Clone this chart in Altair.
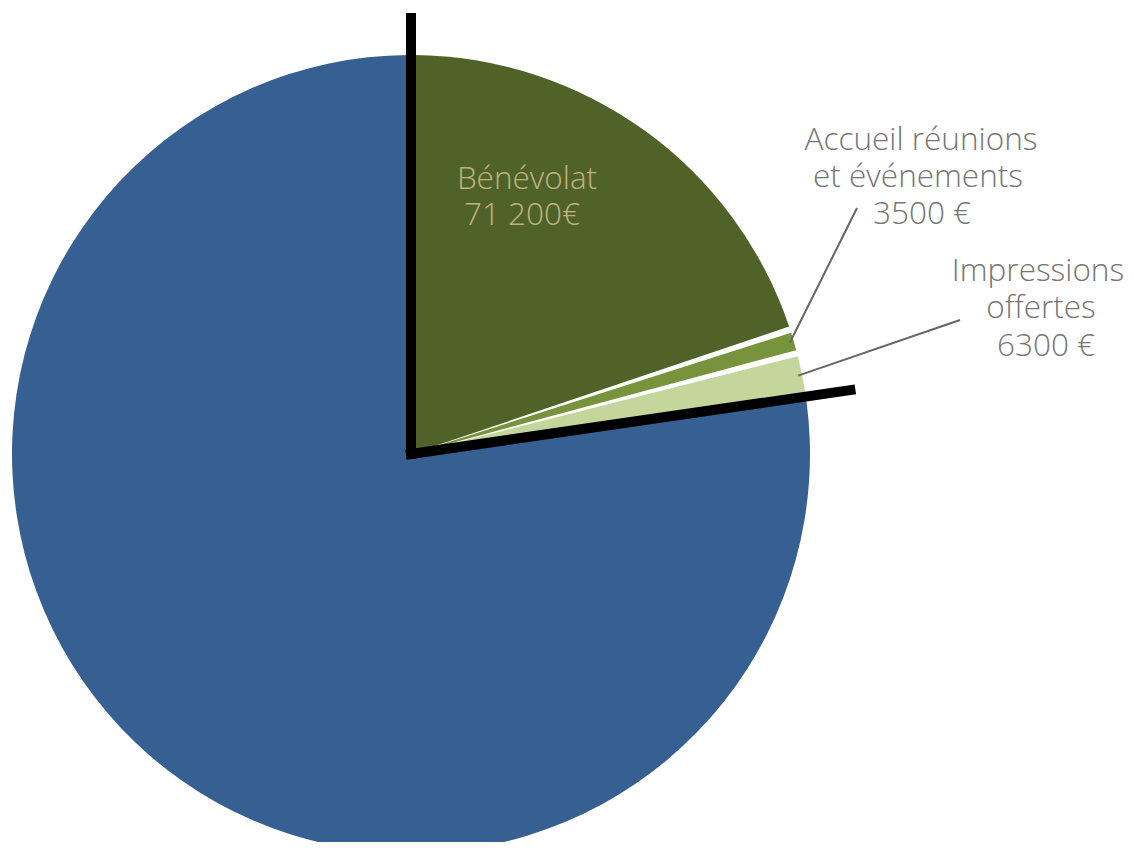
import math
import altair as alt
import pandas as pd

# ---- chart values ----
categories = ["Bénévolat", "Accueil réunions et événements", "Impressions offertes", "Autres ressources"]
values = [71200, 3500, 6300, 275800]
slice_colors = ["#4F6228", "#77933C", "#C3D69B", "#366092"]

# label texts (one entry per line)
label_texts = ["Bénévolat", "71 200€",
               "Accueil réunions", "et événements", "3500 €",
               "Impressions", "offertes", "6300 €"]
label_colors = ["#BFB280", "#BFB280",
                "#767676", "#767676", "#767676",
                "#767676", "#767676", "#767676"]

# ---- layout (pixel-like units, origin at pie centre, y up) ----
label_x = [116, 111, 510, 507, 511, 627, 630, 635]
label_y = [265, 229, 304, 267, 230, 173, 136, 98]
leader_slices = [1, 2]               # slices that get a leader line
leader_end_x = [446, 549]
leader_end_y = [246, 134]
pie_radius = 399
line_lengths = [436, 444]

total = sum(values)
cum = [sum(values[:i]) for i in range(len(values) + 1)]

pie_df = pd.DataFrame({"cat": categories, "value": values, "order": list(range(len(values)))})

# black separator lines: start of first slice and end of the third (in-kind block)
bound_angles = [0.0, cum[3] / total * 2 * math.pi]
rules_df = pd.DataFrame({
    "x": [0.0, 0.0], "y": [0.0, 0.0],
    "x2": [L * math.sin(a) for L, a in zip(line_lengths, bound_angles)],
    "y2": [L * math.cos(a) for L, a in zip(line_lengths, bound_angles)],
})

lead_rows = []
for i, s in enumerate(leader_slices):
    mid = (cum[s] + values[s] / 2) / total * 2 * math.pi
    lead_rows.append({"x": (pie_radius - 4) * math.sin(mid), "y": (pie_radius - 4) * math.cos(mid),
                      "x2": leader_end_x[i], "y2": leader_end_y[i]})
lead_df = pd.DataFrame(lead_rows)

text_df = pd.DataFrame({"t": label_texts, "x": label_x, "y": label_y, "c": label_colors})

xs = alt.Scale(domain=[-403, 715], nice=False, zero=False)
ys = alt.Scale(domain=[-388, 446], nice=False, zero=False)

pie = alt.Chart(pie_df).mark_arc(radius=pie_radius, padAngle=0.016).encode(
    x=alt.X(datum=0, scale=xs, axis=None),
    y=alt.Y(datum=0, scale=ys, axis=None),
    theta=alt.Theta("value:Q", stack=True),
    order=alt.Order("order:Q", sort="ascending"),
    color=alt.Color("cat:N", scale=alt.Scale(domain=categories, range=slice_colors), legend=None),
)

rules = alt.Chart(rules_df).mark_rule(color="black", strokeWidth=10, strokeCap="square").encode(
    x=alt.X("x:Q", scale=xs, axis=None), y=alt.Y("y:Q", scale=ys, axis=None),
    x2="x2:Q", y2="y2:Q",
)

leaders = alt.Chart(lead_df).mark_rule(color="#666666", strokeWidth=2).encode(
    x=alt.X("x:Q", scale=xs, axis=None), y=alt.Y("y:Q", scale=ys, axis=None),
    x2="x2:Q", y2="y2:Q",
)

texts = alt.Chart(text_df).mark_text(
    font="Open Sans", fontWeight=300, fontSize=31.5, align="center", baseline="alphabetic"
).encode(
    x=alt.X("x:Q", scale=xs, axis=None), y=alt.Y("y:Q", scale=ys, axis=None),
    text="t:N", color=alt.Color("c:N", scale=None),
)

chart = alt.layer(pie, rules, leaders, texts).properties(
    width=1118, height=834, autosize=alt.AutoSizeParams(type="none"), padding=0
).configure_view(stroke=None)

chart.save("out.html", embed_options={"renderer": "svg", "actions": False})
